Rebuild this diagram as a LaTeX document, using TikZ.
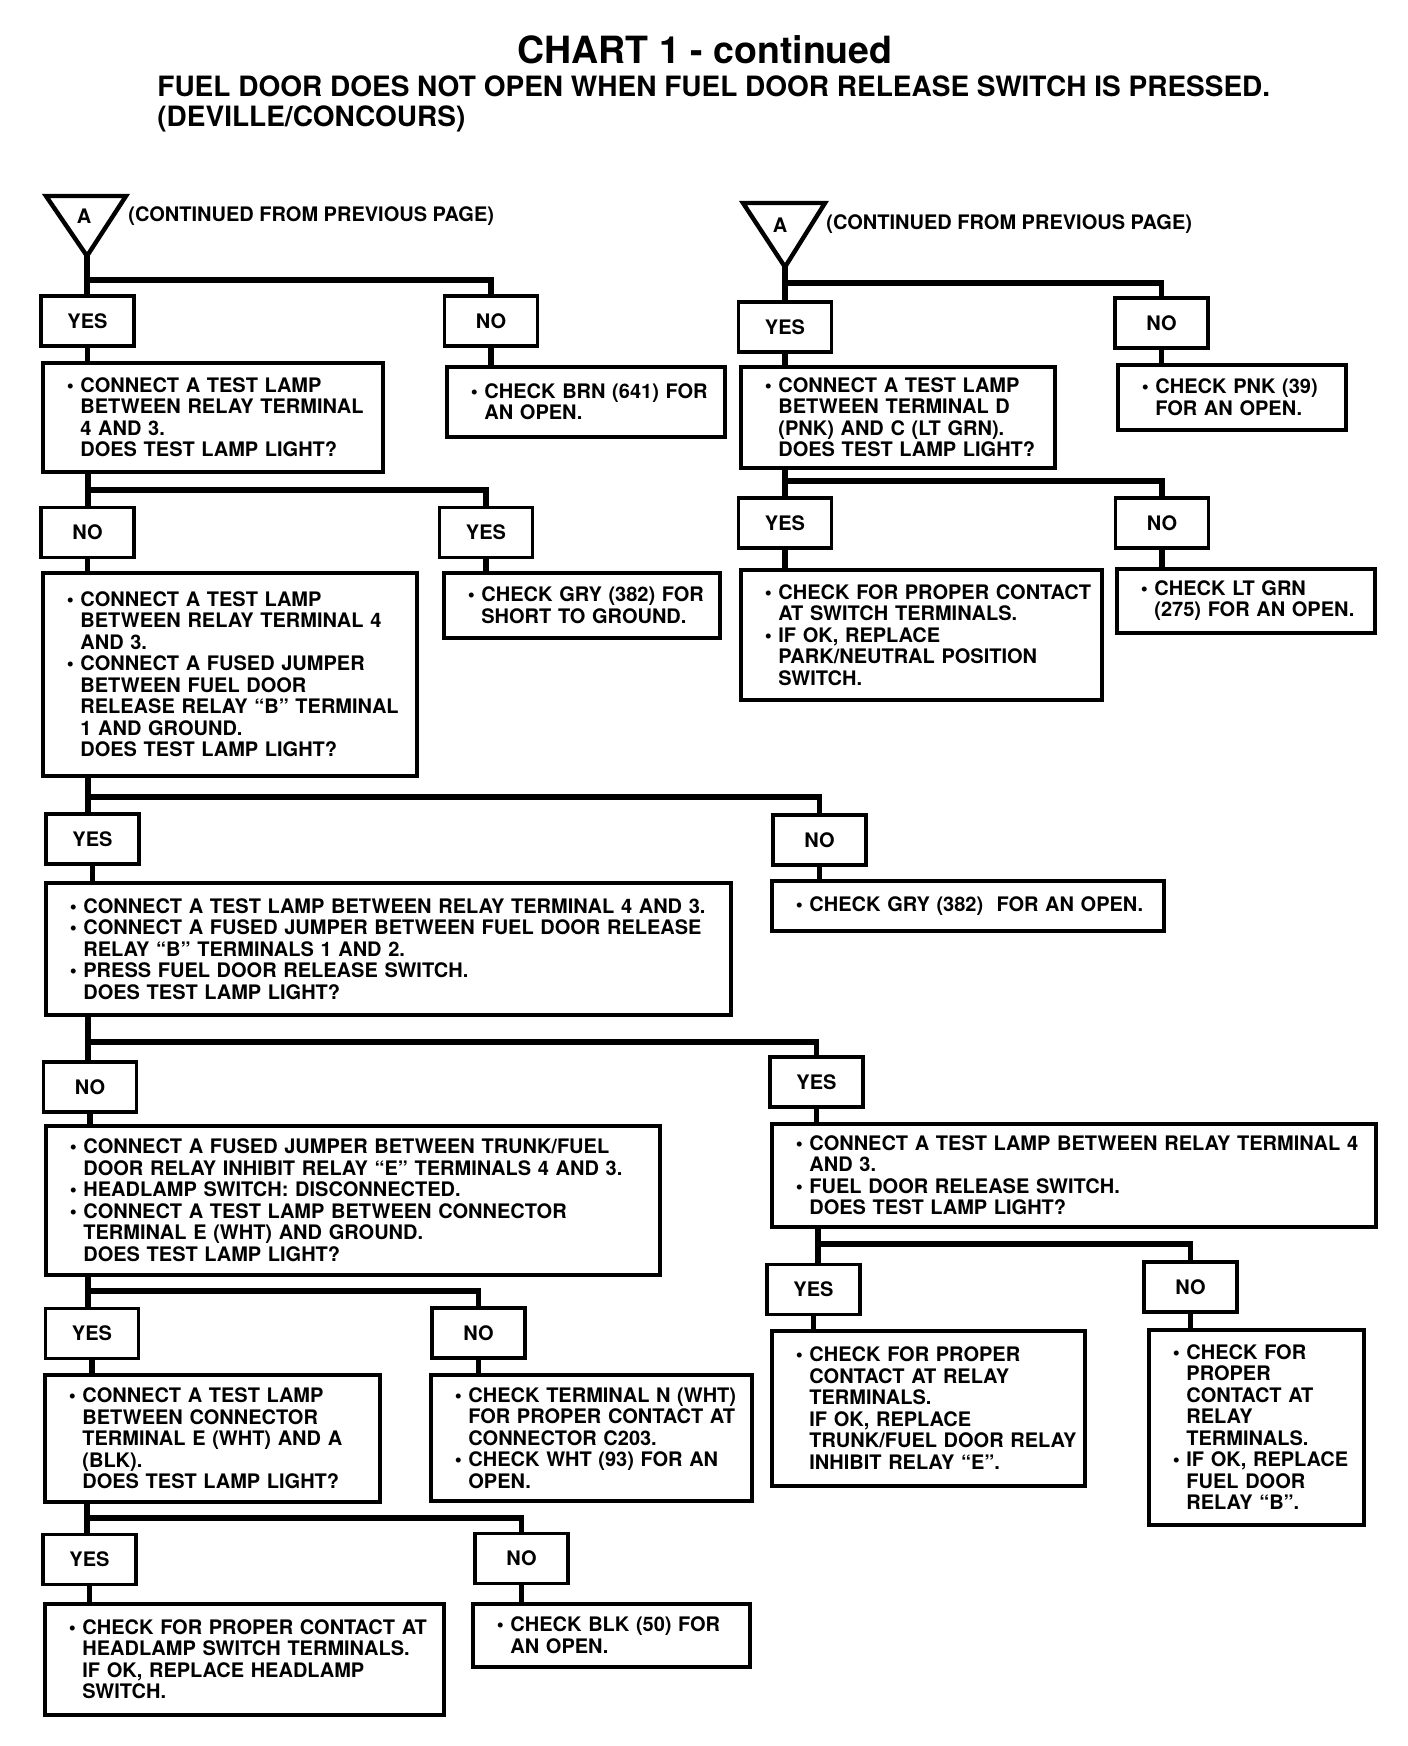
\documentclass[tikz,border=0pt]{standalone}
\usepackage{fontspec}
\setmainfont{TeX Gyre Heros}
\newcommand{\bodyfont}{\fontsize{10}{10.75}\selectfont\bfseries}
\newcommand{\titlefont}{\fontsize{18.75}{20}\selectfont\bfseries}
\newcommand{\subfont}{\fontsize{14}{15}\selectfont\bfseries}
\newcommand{\bul}{\leftskip=18.8pt\noindent\llap{\textbullet\hspace{3.3pt}}}

\begin{document}
\begin{tikzpicture}[x=0.5pt,y=-0.5pt,
    qbox/.style={draw,line width=1.8pt,anchor=north west,inner xsep=0pt,inner ysep=0pt,align=left,font=\bodyfont},
    lab/.style={draw,line width=1.8pt,minimum width=46.5pt,minimum height=25pt,inner sep=0pt,font=\bodyfont},
    wire/.style={line width=2.7pt},
    tri/.style={line width=2.2pt,line join=miter},
    txt/.style={inner sep=0pt,font=\bodyfont}]
  \useasboundingbox (0,0) rectangle (1408,1746);

  \node[txt,font=\titlefont] (title) at (705,50) {CHART 1 - continued};
  \node[txt,font=\subfont,anchor=base west] (sub1) at (157,96) {FUEL DOOR DOES NOT OPEN WHEN FUEL DOOR RELEASE SWITCH IS PRESSED.};
  \node[txt,font=\subfont,anchor=base west] (sub2) at (157,126) {(DEVILLE/CONCOURS)};

  \draw[tri] (46,196) -- (126,196) -- (87,256) -- cycle;
  \coordinate (tipL) at (87,256);
  \node[txt] (aL) at (84,216) {A};
  \node[txt,anchor=west] (contL) at (128,216) {(CONTINUED FROM PREVIOUS PAGE)};
  \draw[tri] (743,203) -- (825,203) -- (785,267) -- cycle;
  \coordinate (tipR) at (785,267);
  \node[txt] (aR) at (780,225) {A};
  \node[txt,anchor=west] (contR) at (826,224) {(CONTINUED FROM PREVIOUS PAGE)};

  \coordinate (kL0) at (87,280);
  \coordinate (kL1) at (88,490);
  \coordinate (kL2) at (88,797);
  \coordinate (kL3) at (88,1042);
  \coordinate (kL4) at (88,1291);
  \coordinate (kL5) at (87,1518);
  \coordinate (kR0) at (785,283);
  \coordinate (kR1) at (785,481);
  \coordinate (kR3) at (818,1244);

  \node[lab] (yL1) at (87.5,321) {YES};
  \node[lab] (nL1) at (491,321) {NO};
  \node[lab] (nL2) at (87.5,532.5) {NO};
  \node[lab] (yL2) at (486,532.5) {YES};
  \node[lab] (yL3) at (92.5,839) {YES};
  \node[lab] (nL3) at (819.5,840) {NO};
  \node[lab] (nL4) at (90,1087) {NO};
  \node[lab] (yL4) at (816.5,1082) {YES};
  \node[lab] (yL5) at (92,1333.5) {YES};
  \node[lab] (nL5) at (478.5,1333) {NO};
  \node[lab] (yL6) at (89.5,1559.5) {YES};
  \node[lab] (nL6) at (521.5,1558.5) {NO};
  \node[lab] (yR1) at (785,327) {YES};
  \node[lab] (nR1) at (1161.5,323) {NO};
  \node[lab] (yR2) at (785,523) {YES};
  \node[lab] (nR2) at (1162,523) {NO};
  \node[lab] (yR5) at (813.5,1289.5) {YES};
  \node[lab] (nR5) at (1190.5,1287) {NO};

  \node[qbox,text width=170pt,minimum height=54.5pt] (qL1) at (41,361)
    {\bul CONNECT A TEST LAMP\\ BETWEEN RELAY TERMINAL\\ 4 AND 3.\\ DOES TEST LAMP LIGHT?\par};
  \node[qbox,text width=139pt,minimum height=35pt] (aL1) at (445,365)
    {\bul CHECK BRN (641) FOR\\ AN OPEN.\par};
  \node[qbox,text width=187pt,minimum height=101.5pt] (qL2) at (41,571)
    {\bul CONNECT A TEST LAMP\\ BETWEEN RELAY TERMINAL 4\\ AND 3.\\ \bul CONNECT A FUSED JUMPER\\ BETWEEN FUEL DOOR\\ RELEASE RELAY “B” TERMINAL\\ 1 AND GROUND.\\ DOES TEST LAMP LIGHT?\par};
  \node[qbox,text width=138pt,minimum height=32.5pt] (aL2) at (442,571)
    {\bul CHECK GRY (382) FOR\\ SHORT TO GROUND.\par};
  \node[qbox,text width=342.5pt,minimum height=66pt] (qL3) at (44,881)
    {\bul CONNECT A TEST LAMP BETWEEN RELAY TERMINAL 4 AND 3.\\ \bul CONNECT A FUSED JUMPER BETWEEN FUEL DOOR RELEASE\\ RELAY “B” TERMINALS 1 AND 2.\\ \bul PRESS FUEL DOOR RELEASE SWITCH.\\ DOES TEST LAMP LIGHT?\par};
  \node[qbox,text width=196pt,minimum height=25pt] (aL3) at (770,879)
    {\bul CHECK GRY (382)\ \ FOR AN OPEN.\par};
  \node[qbox,text width=307pt,minimum height=74.5pt] (qL4) at (44,1124)
    {\bul CONNECT A FUSED JUMPER BETWEEN TRUNK/FUEL\\ DOOR RELAY INHIBIT RELAY “E” TERMINALS 4 AND 3.\\ \bul HEADLAMP SWITCH: DISCONNECTED.\\ \bul CONNECT A TEST LAMP BETWEEN CONNECTOR\\ TERMINAL E (WHT) AND GROUND.\\ DOES TEST LAMP LIGHT?\par};
  \node[qbox,text width=302pt,minimum height=51.5pt] (qR4) at (770,1122)
    {\bul CONNECT A TEST LAMP BETWEEN RELAY TERMINAL 4\\ AND 3.\\ \bul FUEL DOOR RELEASE SWITCH.\\ DOES TEST LAMP LIGHT?\par};
  \node[qbox,text width=167.5pt,minimum height=63.5pt] (qL5) at (43,1373)
    {\bul CONNECT A TEST LAMP\\ BETWEEN CONNECTOR\\ TERMINAL E (WHT) AND A\\ (BLK).\\ DOES TEST LAMP LIGHT?\par};
  \node[qbox,text width=160.5pt,minimum height=63pt] (aL5) at (429,1373)
    {\bul CHECK TERMINAL N (WHT)\\ FOR PROPER CONTACT AT\\ CONNECTOR C203.\\ \bul CHECK WHT (93) FOR AN\\ OPEN.\par};
  \node[qbox,text width=199.5pt,minimum height=55.5pt] (qL6) at (43,1602)
    {\bul CHECK FOR PROPER CONTACT AT\\ HEADLAMP SWITCH TERMINALS.\\ IF OK, REPLACE HEADLAMP\\ SWITCH.\par};
  \node[qbox,text width=138.5pt,minimum height=31.5pt] (aL6) at (471,1602)
    {\bul CHECK BLK (50) FOR\\ AN OPEN.\par};
  \node[qbox,text width=157pt,minimum height=50.5pt] (qR1) at (739,365)
    {\bul CONNECT A TEST LAMP\\ BETWEEN TERMINAL D\\ (PNK) AND C (LT GRN).\\ DOES TEST LAMP LIGHT?\par};
  \node[qbox,text width=114pt,minimum height=32.5pt] (aR1) at (1116,363)
    {\bul CHECK PNK (39)\\ FOR AN OPEN.\par};
  \node[qbox,text width=180.5pt,minimum height=65pt] (aR2) at (739,568)
    {\bul CHECK FOR PROPER CONTACT\\ AT SWITCH TERMINALS.\\ \bul IF OK, REPLACE\\ PARK/NEUTRAL POSITION\\ SWITCH.\par};
  \node[qbox,text width=129pt,minimum height=32pt] (bR2) at (1115,567)
    {\bul CHECK LT GRN\\ (275) FOR AN OPEN.\par};
  \node[qbox,text width=156.5pt,minimum height=77.5pt] (eR5) at (770,1329)
    {\bul CHECK FOR PROPER\\ CONTACT AT RELAY\\ TERMINALS.\\ IF OK, REPLACE\\ TRUNK/FUEL DOOR RELAY\\ INHIBIT RELAY “E”.\par};
  \node[qbox,text width=107.5pt,minimum height=97.5pt] (fR5) at (1147,1328)
    {\bul CHECK FOR\\ PROPER\\ CONTACT AT\\ RELAY\\ TERMINALS.\\ \bul IF OK, REPLACE\\ FUEL DOOR\\ RELAY “B”.\par};

  \draw[wire] (tipL) -- (tipL |- yL1.north);
  \draw[wire] (kL0) -| (nL1.north);
  \draw[wire] (yL1.south) -- (yL1.south |- qL1.north);
  \draw[wire] (nL1.south) -- (nL1.south |- aL1.north);
  \draw[wire] (qL1.south -| kL1) -- (kL1 |- nL2.north);
  \draw[wire] (kL1) -| (yL2.north);
  \draw[wire] (nL2.south) -- (nL2.south |- qL2.north);
  \draw[wire] (yL2.south) -- (yL2.south |- aL2.north);
  \draw[wire] (qL2.south -| kL2) -- (kL2 |- yL3.north);
  \draw[wire] (kL2) -| (nL3.north);
  \draw[wire] (yL3.south) -- (yL3.south |- qL3.north);
  \draw[wire] (nL3.south) -- (nL3.south |- aL3.north);
  \draw[wire] (qL3.south -| kL3) -- (kL3 |- nL4.north);
  \draw[wire] (kL3) -| (yL4.north);
  \draw[wire] (nL4.south) -- (nL4.south |- qL4.north);
  \draw[wire] (yL4.south) -- (yL4.south |- qR4.north);
  \draw[wire] (qL4.south -| kL4) -- (kL4 |- yL5.north);
  \draw[wire] (kL4) -| (nL5.north);
  \draw[wire] (yL5.south) -- (yL5.south |- qL5.north);
  \draw[wire] (nL5.south) -- (nL5.south |- aL5.north);
  \draw[wire] (qL5.south -| kL5) -- (kL5 |- yL6.north);
  \draw[wire] (kL5) -| (nL6.north);
  \draw[wire] (yL6.south) -- (yL6.south |- qL6.north);
  \draw[wire] (nL6.south) -- (nL6.south |- aL6.north);

  \draw[wire] (tipR) -- (tipR |- yR1.north);
  \draw[wire] (kR0) -| (nR1.north);
  \draw[wire] (yR1.south) -- (yR1.south |- qR1.north);
  \draw[wire] (nR1.south) -- (nR1.south |- aR1.north);
  \draw[wire] (qR1.south -| kR1) -- (kR1 |- yR2.north);
  \draw[wire] (kR1) -| (nR2.north);
  \draw[wire] (yR2.south) -- (yR2.south |- aR2.north);
  \draw[wire] (nR2.south) -- (nR2.south |- bR2.north);
  \draw[wire] (qR4.south -| kR3) -- (kR3 |- yR5.north);
  \draw[wire] (kR3) -| (nR5.north);
  \draw[wire] (yR5.south) -- (yR5.south |- eR5.north);
  \draw[wire] (nR5.south) -- (nR5.south |- fR5.north);
\end{tikzpicture}
\end{document}
